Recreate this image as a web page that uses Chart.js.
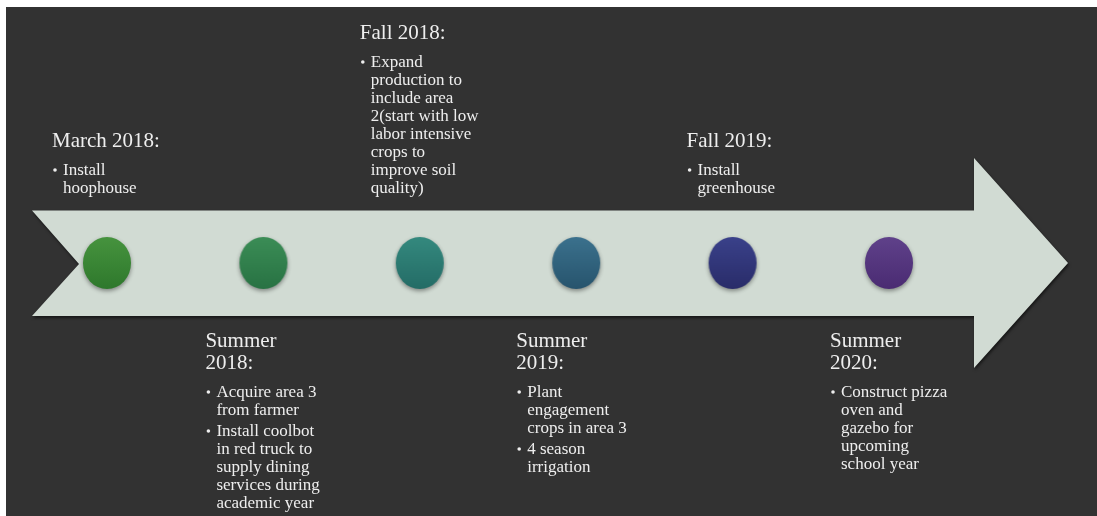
<!DOCTYPE html>
<html>
<head>
<meta charset="utf-8">
<script src="https://cdn.jsdelivr.net/npm/chart.js@4.4.1/dist/chart.umd.min.js"></script>
<style>
  html, body { margin: 0; padding: 0; background: #ffffff; width: 1097px; height: 516px; overflow: hidden; }
  #wrap { position: absolute; left: 6px; top: 7px; width: 1091px; height: 509px; background: #323232; }
  canvas { display: block; }
</style>
</head>
<body>
<div id="wrap"><canvas id="c" width="1091" height="509"></canvas></div>
<script>
// ---- data ----
const milestoneSteps = [0, 1, 2, 3, 4, 5];
const milestoneLevel = [0, 0, 0, 0, 0, 0];
const milestoneTitles = [
  ['March 2018:'],
  ['Summer', '2018:'],
  ['Fall 2018:'],
  ['Summer', '2019:'],
  ['Fall 2019:'],
  ['Summer', '2020:']
];
const milestoneNotes = [
  [['Install', 'hoophouse']],
  [['Acquire area 3', 'from farmer'], ['Install coolbot', 'in red truck to', 'supply dining', 'services during', 'academic year']],
  [['Expand', 'production to', 'include area', '2(start with low', 'labor intensive', 'crops to', 'improve soil', 'quality)']],
  [['Plant', 'engagement', 'crops in area 3'], ['4 season', 'irrigation']],
  [['Install', 'greenhouse']],
  [['Construct pizza', 'oven and', 'gazebo for', 'upcoming', 'school year']]
];

// ---- styles ----
const markerColors = [
  ['#46933e', '#2e782c'],
  ['#3b8d56', '#287243'],
  ['#34897e', '#246c66'],
  ['#3b718d', '#27546d'],
  ['#3a418a', '#292c69'],
  ['#5f418a', '#4a2b72']
];
const labelDx = [-55, -58, -60, -60, -46, -59];

function makeMarker(top, bottom) {
  const c = document.createElement('canvas');
  c.width = 64; c.height = 72;
  const g = c.getContext('2d');
  g.shadowColor = 'rgba(0,0,0,0.4)';
  g.shadowBlur = 4;
  g.shadowOffsetY = 2;
  const grad = g.createLinearGradient(0, 10, 0, 62);
  grad.addColorStop(0, top);
  grad.addColorStop(1, bottom);
  g.fillStyle = grad;
  g.beginPath();
  g.ellipse(32, 36, 24, 26, 0, 0, Math.PI * 2);
  g.fill();
  return c;
}
const markers = markerColors.map(([a, b]) => makeMarker(a, b));

const arrowPlugin = {
  id: 'arrowBand',
  beforeDatasetsDraw(chart) {
    const { ctx, chartArea, scales } = chart;
    const cy = scales.y.getPixelForValue(0);
    const L = chartArea.left;
    const back = L + 26, notch = L + 73, headBase = L + 968, tip = L + 1062;
    const bodyTop = cy - 52.5, bodyBot = cy + 53;
    const headTop = cy - 105, headBot = cy + 105;
    ctx.save();
    ctx.shadowColor = 'rgba(0,0,0,0.55)';
    ctx.shadowBlur = 3;
    ctx.shadowOffsetX = 1;
    ctx.shadowOffsetY = 2;
    ctx.fillStyle = '#d1dbd3';
    ctx.beginPath();
    ctx.moveTo(back, bodyTop);
    ctx.lineTo(headBase, bodyTop);
    ctx.lineTo(headBase, headTop);
    ctx.lineTo(tip, cy);
    ctx.lineTo(headBase, headBot);
    ctx.lineTo(headBase, bodyBot);
    ctx.lineTo(back, bodyBot);
    ctx.lineTo(notch, cy + 1);
    ctx.closePath();
    ctx.fill();
    ctx.restore();
  }
};

const labelPlugin = {
  id: 'milestoneLabels',
  afterDatasetsDraw(chart) {
    const { ctx, scales } = chart;
    const titleFont = '21px "Liberation Serif", serif';
    const noteFont = '17px "Liberation Serif", serif';
    const titleLH = 22, noteLH = 18, paraGap = 3, titleToNote = 28;
    ctx.save();
    ctx.fillStyle = '#eeeeee';
    ctx.textBaseline = 'alphabetic';
    ctx.textAlign = 'left';
    milestoneSteps.forEach((step, i) => {
      const cx = scales.x.getPixelForValue(step);
      const x = cx + labelDx[i];
      const titles = milestoneTitles[i];
      const notes = milestoneNotes[i];
      const above = i % 2 === 0;
      const lines = [];
      let y = 0;
      titles.forEach((t, k) => { if (k > 0) y += titleLH; lines.push({ t, y, kind: 'title' }); });
      y += titleToNote;
      notes.forEach((item, p) => {
        if (p > 0) y += noteLH + paraGap;
        item.forEach((t, k) => {
          if (k > 0) y += noteLH;
          lines.push({ t, y, kind: 'note', bullet: k === 0 });
        });
      });
      const base = above ? (186 - y) : 340;
      lines.forEach(l => {
        const yy = base + l.y;
        if (l.kind === 'title') {
          ctx.font = titleFont;
          ctx.fillText(l.t, x, yy);
        } else {
          ctx.font = noteFont;
          if (l.bullet) {
            ctx.beginPath();
            ctx.arc(x + 3, yy - 5, 1.8, 0, Math.PI * 2);
            ctx.fill();
          }
          ctx.fillText(l.t, x + 11, yy);
        }
      });
    });
    ctx.restore();
  }
};

new Chart(document.getElementById('c'), {
  type: 'scatter',
  data: {
    datasets: [{
      label: 'Milestones',
      data: milestoneSteps.map((s, i) => ({ x: s, y: milestoneLevel[i] })),
      pointStyle: markers,
      pointRadius: 25,
      clip: false
    }]
  },
  options: {
    responsive: false,
    animation: false,
    events: [],
    layout: { autoPadding: false, padding: { top: 3, left: 0, right: 0, bottom: 0 } },
    plugins: { legend: { display: false }, tooltip: { enabled: false } },
    scales: {
      x: { type: 'linear', display: false, min: -0.6458, max: 6.3299 },
      y: { type: 'linear', display: false, min: -1, max: 1 }
    }
  },
  plugins: [arrowPlugin, labelPlugin]
});
</script>
</body>
</html>
